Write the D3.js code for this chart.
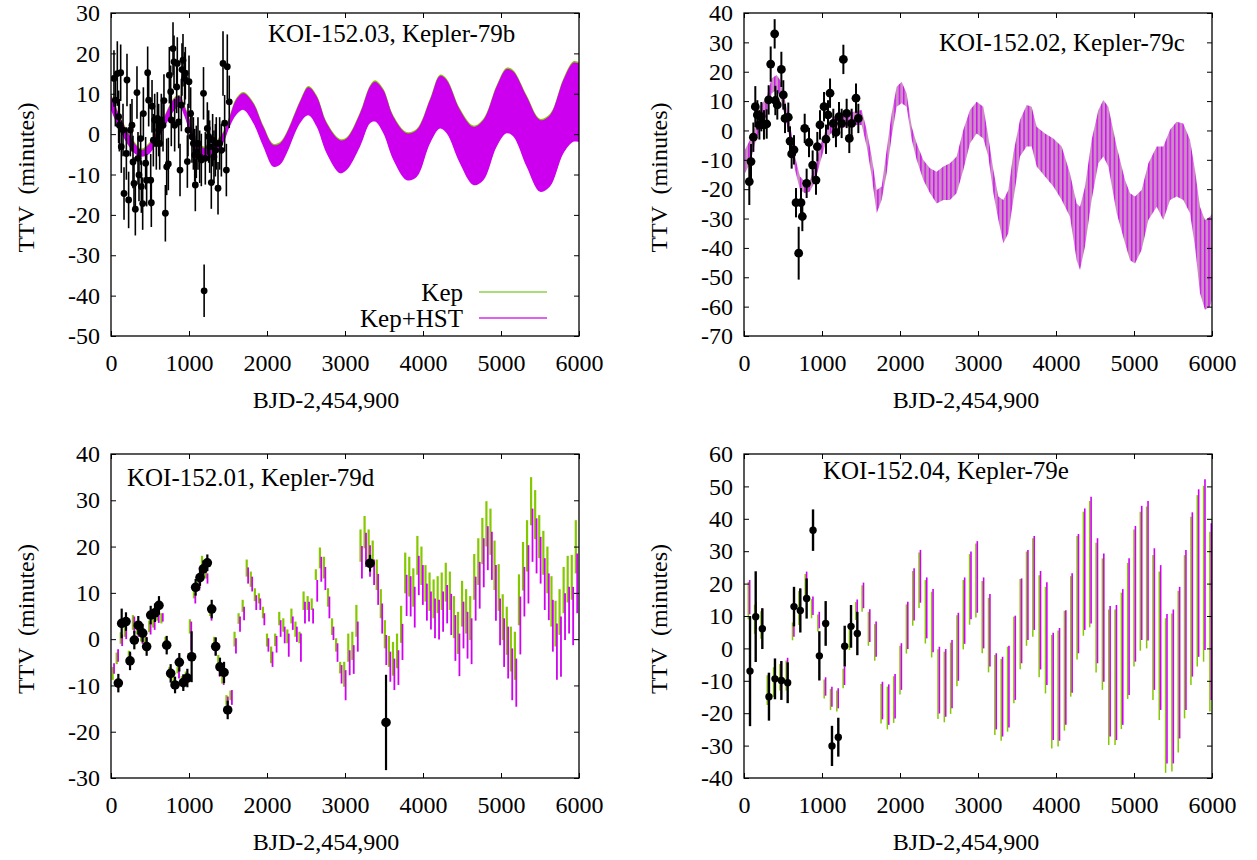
<!DOCTYPE html>
<html><head><meta charset="utf-8">
<script src="https://cdn.jsdelivr.net/npm/d3@7"></script>
<style>
html,body{margin:0;padding:0;background:#fff;}
svg{display:block;}
</style></head><body>
<svg id="chart" width="1257" height="860"></svg>
<script>
// ---------------- DATA ----------------
const xTicks = [0,1000,2000,3000,4000,5000,6000];
const yTicksB = [-50,-40,-30,-20,-10,0,10,20,30];
const yTicksC = [-70,-60,-50,-40,-30,-20,-10,0,10,20,30,40];
const yTicksD = [-30,-20,-10,0,10,20,30,40];
const yTicksE = [-40,-30,-20,-10,0,10,20,30,40,50,60];
const titles = ["KOI-152.03, Kepler-79b","KOI-152.02, Kepler-79c","KOI-152.01, Kepler-79d","KOI-152.04, Kepler-79e"];
const xLabel = "BJD-2,454,900";
const yLabel = "TTV  (minutes)";
const legendNames = ["Kep","Kep+HST"];

// Kepler-79b model band (upper / lower envelope)
const bModelT  = [0,132,303,389,496,645,816,880,944,1009,1073,1158,1244,1329,1436,1521,1607,1697,1825,1953,2081,2167,2252,2423,2530,2637,2765,2936,3021,3192,3321,3385,3491,3620,3791,3919,4090,4218,4303,4474,4645,4774,4944,5073,5158,5329,5500,5628,5799,5927,6000];
const bModelHi = [9.7,3.5,-2.3,-3.9,-2.3,2.7,8.9,9.3,6.8,3.5,-0.6,-3.1,-3.5,-2.3,0.2,4.3,8.6,10.1,7.6,1.8,-2.7,-2.3,0.2,8.0,11.6,9.3,2.7,-1.5,-1.1,5.1,11.8,13.0,10.9,4.3,0.2,1.0,8.5,14.4,13.4,6.0,1.8,3.5,11.8,16.1,15.5,9.3,3.5,4.7,13.4,17.7,17.5];
const bModelLo = [6.0,0.2,-4.8,-5.6,-4.8,0.2,6.0,6.8,4.3,0.2,-3.1,-5.6,-6.0,-4.8,-2.3,1.8,4.8,6.0,2.7,-3.1,-8.1,-7.6,-4.8,2.7,4.7,1.8,-4.8,-9.7,-8.9,-3.1,2.7,3.1,0.2,-6.4,-11.4,-10.6,-2.3,1.4,0.2,-7.3,-12.6,-11.4,-3.1,0.2,-0.6,-8.1,-14.3,-13.0,-4.8,-1.9,-1.9];
// Kepler-79b observations [t, ttv, err]
const bObs = [[38,13.8,7],[56,8.4,6.5],[81,15.0,8],[98,4.3,6.5],[107,2.2,6.5],[124,15.2,7],[132,-3.1,6.5],[154,1.0,6.5],[167,-14.7,6.5],[197,-4.8,6.5],[205,13.4,6.5],[226,-16.3,7],[248,1.0,6.5],[269,2.2,6.5],[282,-6.9,6.5],[295,-12.2,6.5],[312,-18.6,6.5],[333,10.3,6.5],[346,-6.0,6.5],[359,-10.1,6.5],[380,-1.1,6.5],[389,-13.0,6.5],[406,-17.2,6.5],[415,5.1,6.5],[444,-7.2,6.5],[457,-11.4,6.5],[470,15.2,6.5],[483,8.4,6.5],[509,-11.4,6.5],[517,-17.0,6],[526,6.9,6.5],[543,-1.5,6.5],[560,3.5,6.5],[581,-2.3,6.5],[594,3.9,6.5],[611,1.0,6.5],[624,-2.3,6.5],[645,3.5,6.5],[667,2.2,6.5],[679,8.3,6.5],[697,-19.6,7],[714,-8.1,7],[735,-7.4,6.5],[748,14.6,7],[765,10.5,6.5],[773,3.5,6.5],[795,21.2,6.5],[808,17.9,6.5],[816,2.2,6.5],[842,11.7,6.5],[850,17.5,6.5],[868,3.0,6.5],[885,-8.9,6.5],[902,7.2,6.5],[910,16.0,6.5],[923,18.3,6.5],[944,13.8,6.5],[953,15.1,6.5],[979,-6.8,6.5],[987,1.0,6.5],[1000,13.0,6.5],[1021,5.1,6.5],[1038,-0.6,6.5],[1056,-2.3,6.5],[1073,-5.2,6.5],[1081,-12.6,6.5],[1094,-4.4,6.5],[1115,-2.3,6.5],[1137,-5.6,6.5],[1158,-6.4,6.5],[1186,10.1,6.5],[1194,-38.8,6.5],[1209,-6.0,6.5],[1235,1.4,6.5],[1252,-0.6,6.5],[1265,-3.1,6.5],[1286,-12.0,6.5],[1303,-1.5,6.5],[1320,-5.6,6.5],[1338,-4.0,6.5],[1350,-2.3,6.5],[1372,-13.4,6.5],[1393,-2.3,6.5],[1415,-4.0,6.5],[1436,17.5,8],[1457,2.7,7],[1479,-8.9,6.5],[1491,16.7,8],[1516,8.0,6.5]];

// Kepler-79c model band
const cModelT  = [13,77,141,205,291,355,419,462,526,590,654,718,782,846,910,974,1060,1145,1231,1316,1402,1509,1573,1637,1701,1765,1829,1893,1957,2021,2085,2150,2214,2299,2385,2470,2556,2641,2726,2812,2897,2983,3068,3132,3197,3261,3325,3389,3453,3538,3624,3688,3752,3859,3966,4073,4179,4265,4308,4372,4457,4543,4607,4671,4778,4885,4949,5013,5098,5184,5291,5376,5462,5547,5632,5718,5782,5846,5910,5974,6000];
const cModelHi = [-6.6,-3.2,1.3,8.1,11.5,17.8,18.9,17.2,10.4,2.4,-8.9,-15.7,-17.4,-16.9,-12.3,-5.5,1.3,4.7,5.3,5.8,6.4,7.0,0.2,-8.9,-20.3,-19.1,-6.6,5.8,14.9,16.6,12.7,1.3,-4.4,-10.1,-12.9,-14.1,-12.3,-11.2,-8.9,0.2,7.0,9.8,8.1,-2.1,-13.5,-22.5,-23.7,-20.3,-7.8,3.6,8.7,8.1,1.3,-1.0,-2.7,-5.5,-14.6,-24.9,-26.0,-19.1,-3.2,7.0,10.4,8.1,-5.5,-16.9,-21.4,-22.5,-20.3,-11.2,-5.5,-5.5,0.2,3.0,2.4,-3.2,-13.5,-26.0,-30.5,-29.4,-28.2];
const cModelLo = [-14.6,-11.2,-4.4,0.2,5.8,12.7,13.8,11.5,4.7,-3.2,-13.5,-20.3,-21.4,-20.8,-17.4,-11.2,-3.2,0.2,0.7,1.3,1.9,1.9,-5.5,-15.7,-28.2,-23.7,-14.6,-2.1,8.1,9.3,8.1,-3.2,-10.1,-16.9,-21.4,-24.9,-23.7,-23.7,-21.4,-13.5,-4.4,-1.0,-2.7,-8.9,-21.4,-30.5,-38.4,-35.0,-23.7,-8.9,-5.5,-5.5,-12.3,-15.7,-19.1,-23.7,-29.4,-44.2,-47.5,-39.5,-23.7,-11.2,-8.9,-12.3,-28.2,-38.4,-44.2,-45.3,-40.7,-30.5,-26.0,-30.5,-23.7,-22.5,-23.7,-28.2,-39.5,-55.4,-61.1,-60.0,-57.7];
const cObs = [[68,-17.4,8],[90,-10.6,6],[120,-2.3,5],[145,8.1,7],[171,5.3,5],[197,1.9,5],[222,4.7,5],[256,1.9,5],[291,2.2,5],[316,10.4,5],[342,22.6,6],[393,32.9,5],[402,10.2,5],[427,8.7,5],[479,20.8,6],[504,12.1,5],[526,4.1,5],[568,4.5,5],[590,-3.6,5],[611,-8.0,5],[641,-6.6,5],[667,-24.6,5],[701,-41.8,9],[731,-24.6,5],[748,-29.3,5],[778,0.7,5],[803,-18.0,5],[833,-4.1,5],[880,-11.8,5],[923,-16.9,5],[940,-5.5,5],[974,1.9,5],[1026,8.1,5],[1051,-3.0,5],[1077,5.3,5],[1103,12.7,5],[1145,2.4,5],[1179,-0.7,5],[1218,4.7,5],[1252,2.4,5],[1274,24.2,5],[1316,5.8,5],[1350,-2.7,5],[1380,2.4,5],[1436,11.0,5],[1466,4.1,5]];

// Kepler-79d model bars [t, kepHi, kepLo, hstHi, hstLo]
const dBars = [[30,-6.0,-8.8,-5.2,-7.5],[82,-2.9,-5.4,-2.2,-4.9],[134,1.5,-1.0,1.0,-1.5],[186,3.5,0.5,3.0,0.0],[238,-2.5,-5.0,-3.0,-5.5],[290,5.2,2.0,4.9,1.2],[343,3.5,1.0,3.0,0.5],[395,2.0,-0.5,1.5,-1.0],[447,1.0,-1.5,0.5,-2.0],[499,4.0,1.5,3.5,1.0],[551,5.0,2.5,4.5,2.0],[603,6.5,4.0,6.0,3.5],[655,5.6,3.4,5.6,3.8],[707,0.5,-2.0,0.0,-2.5],[759,-6.0,-8.5,-6.5,-9.0],[811,-8.0,-10.0,-8.5,-10.5],[863,-6.0,-7.4,-6.3,-8.5],[916,-8.0,-10.0,-8.5,-10.5],[968,-7.0,-9.0,-7.5,-9.5],[1020,4.3,1.2,3.8,-2.4],[1072,11.0,8.8,9.9,7.7],[1124,14.0,11.5,13.0,10.5],[1176,18.0,15.6,16.7,14.2],[1228,15.6,13.1,14.2,12.0],[1280,7.5,5.0,6.5,4.0],[1332,0.5,-2.4,0.2,-3.4],[1384,-3.4,-6.7,-4.9,-8.1],[1436,-6.7,-9.6,-7.0,-9.9],[1489,-12.1,-14.2,-12.4,-14.6],[1541,-11.1,-13.2,-11.0,-14.2],[1593,1.6,-1.6,0.2,-3.1],[1645,5.6,3.3,4.9,1.6],[1697,8.5,5.9,7.0,4.1],[1749,17.2,13.5,15.5,12.0],[1801,14.6,11.3,13.5,10.3],[1853,11.0,8.2,9.5,6.3],[1905,9.9,7.7,8.8,6.3],[1957,7.0,4.5,5.6,3.0],[2009,1.2,-1.6,0.2,-2.7],[2062,-1.6,-5.2,-2.7,-6.0],[2114,1.2,-1.5,0.7,-2.9],[2166,5.9,3.0,4.1,0.5],[2218,4.5,1.6,2.7,-0.9],[2270,2.1,-0.9,1.2,-3.8],[2322,6.6,3.4,4.9,2.0],[2374,3.8,0.5,2.7,-0.6],[2426,1.6,-0.9,1.2,-4.9],[2478,10.3,6.3,8.1,3.4],[2530,9.3,6.3,8.1,3.8],[2582,8.8,6.3,6.6,3.4],[2635,15.1,12.8,12.8,8.1],[2687,19.8,15.3,17.8,12.4],[2739,17.8,13.1,15.6,10.6],[2791,11.0,7.0,9.2,4.5],[2843,4.5,0.9,2.7,-0.2],[2895,0.2,-2.7,-0.9,-4.9],[2947,-4.9,-7.4,-5.6,-9.6],[2999,-4.9,-10.3,-6.7,-13.2],[3051,1.2,-4.9,-2.4,-7.8],[3103,1.6,-4.5,-1.3,-7.5],[3155,7.4,0.5,3.8,-2.7],[3208,23.7,16.7,20.1,13.1],[3260,26.6,19.6,23.0,15.6],[3312,23.7,17.1,20.3,13.5],[3364,21.3,15.6,17.2,11.7],[3416,17.2,10.6,14.1,7.4],[3468,10.8,4.5,7.7,1.2],[3520,4.1,-2.0,0.9,-5.6],[3572,0.7,-6.0,-2.7,-9.2],[3624,-0.6,-7.9,-4.2,-11.0],[3676,1.2,-6.3,-2.4,-9.9],[3728,7.2,-0.8,3.3,-4.5],[3781,18.7,9.9,13.9,5.0],[3833,17.8,9.2,13.6,4.9],[3885,15.3,7.0,11.3,2.5],[3937,22.3,13.9,18.0,9.5],[3989,20.0,11.7,16.0,7.4],[4041,16.0,8.1,12.0,4.0],[4093,14.4,6.1,10.3,2.1],[4145,12.9,4.5,8.8,0.2],[4197,13.6,5.6,8.5,-0.1],[4249,14.4,6.3,10.3,1.6],[4301,16.5,8.1,11.7,3.4],[4353,14.6,6.3,9.8,0.9],[4406,9.3,0.2,5.2,-4.7],[4458,5.9,-3.2,1.2,-8.0],[4510,12.6,2.7,8.1,-2.0],[4562,10.8,1.2,5.9,-4.2],[4614,9.3,-0.2,4.5,-5.4],[4666,18.4,8.5,13.5,4.0],[4718,21.8,11.7,16.7,6.6],[4770,26.2,16.2,21.8,11.2],[4822,29.8,20.0,24.4,14.9],[4874,28.2,18.2,23.2,12.8],[4926,21.3,10.6,16.0,4.0],[4979,16.2,6.1,8.8,-1.3],[5031,9.7,-0.2,4.5,-6.0],[5083,7.0,-3.4,2.7,-8.5],[5135,2.7,-7.0,-2.0,-13.2],[5187,1.6,-8.8,-4.2,-14.6],[5239,14.0,3.0,9.2,-3.3],[5291,21.0,10.5,15.6,4.9],[5343,25.7,14.6,20.3,7.7],[5395,35.0,24.6,28.2,16.7],[5447,32.2,21.6,26.1,14.2],[5499,26.8,17.5,22.1,12.0],[5552,23.4,13.9,17.5,6.3],[5604,20.0,9.9,14.2,4.1],[5656,13.6,2.7,8.5,-2.7],[5708,8.3,-1.6,3.4,-8.8],[5760,10.8,0.9,4.9,-8.1],[5812,15.6,5.6,9.9,-0.2],[5864,18.0,7.9,11.3,1.2],[5916,18.2,8.5,11.3,-1.3],[5968,25.7,14.2,18.5,5.6]];
const dObs = [[94,-9.5,2],[137,3.4,3.2],[192,3.8,2],[244,-4.7,2],[299,-0.2,2],[350,3.0,2],[406,1.3,2],[457,-1.6,2],[509,5.2,2],[564,5.7,2],[615,7.3,2],[714,-1.3,2],[765,-7.4,2],[821,-9.9,1.8],[876,-5.0,2],[927,-9.4,1.8],[979,-8.4,2],[1034,-3.8,5.5],[1085,11.2,1.8],[1141,13.3,1.8],[1184,15.2,1.8],[1235,16.5,1.8],[1291,6.5,2],[1342,-1.6,2],[1397,-6.0,2],[1449,-7.2,2.3],[1496,-15.3,2],[3321,16.4,1.8],[3526,-18.0,10.3]];

// Kepler-79e model bars [t, kepHi, kepLo, hstHi, hstLo]
const eBars = [[64,20.5,9.0,21.1,10.5],[145,13.5,4.5,14.4,6.0],[226,11.5,3.0,12.3,4.1],[307,-8.3,-17.5,-7.7,-16.5],[388,-5.8,-15.0,-5.0,-14.0],[469,-4.8,-13.0,-4.0,-12.0],[550,-3.7,-13.0,-2.9,-12.0],[631,8.0,2.5,8.8,3.6],[712,17.7,7.2,18.5,8.3],[794,23.0,15.0,23.7,16.0],[875,15.2,9.3,16.0,10.3],[956,10.5,5.2,11.3,6.2],[1037,-9.6,-15.5,-8.9,-14.6],[1118,-12.5,-19.0,-11.8,-18.0],[1199,-13.0,-19.5,-12.3,-18.5],[1280,-6.3,-12.3,-5.6,-11.3],[1361,5.9,-0.5,6.7,0.5],[1442,14.3,8.8,15.1,9.8],[1523,19.5,11.3,20.3,12.4],[1604,11.3,0.8,12.1,2.0],[1685,7.5,-3.8,8.3,-2.6],[1766,-11.0,-23.2,-10.3,-21.9],[1847,-11.8,-25.0,-11.1,-23.6],[1928,-8.6,-23.0,-7.9,-21.6],[2009,0.8,-14.2,1.6,-12.8],[2091,13.6,-1.6,14.4,-0.2],[2172,23.9,7.0,24.7,8.6],[2253,29.6,12.5,30.4,14.1],[2334,21.1,1.5,21.9,3.1],[2415,17.5,-2.8,18.3,-1.2],[2496,-0.3,-21.8,0.5,-20.1],[2577,-1.0,-22.8,-0.2,-21.1],[2658,1.8,-20.2,2.6,-18.5],[2739,10.2,-11.7,11.0,-10.0],[2820,21.1,-0.3,21.9,1.4],[2901,29.1,7.3,29.9,9.0],[2982,32.4,9.5,33.1,11.0],[3063,20.8,-1.5,21.9,0.0],[3144,15.6,-7.4,16.8,-5.6],[3225,-2.0,-26.7,-1.5,-25.0],[3306,-3.3,-28.5,-2.6,-27.2],[3388,0.5,-25.7,0.8,-24.4],[3469,9.8,-16.9,10.1,-15.9],[3550,21.4,-6.4,21.6,-4.6],[3631,29.9,0.8,30.4,2.6],[3712,34.0,3.6,34.7,5.7],[3793,22.6,-8.9,23.9,-6.5],[3874,19.0,-13.9,20.4,-11.3],[3955,4.1,-30.9,4.8,-28.3],[4036,5.5,-30.3,6.3,-28.5],[4117,11.6,-25.4,11.8,-23.6],[4198,22.3,-14.9,23.2,-13.7],[4279,34.7,-3.4,35.3,-1.5],[4360,42.2,3.9,43.2,5.7],[4441,45.5,6.5,46.8,7.7],[4523,32.6,-7.4,34.0,-4.6],[4604,27.8,-12.8,29.3,-10.3],[4685,12.0,-29.8,13.1,-27.2],[4766,12.0,-29.8,13.4,-28.3],[4847,17.2,-24.9,18.3,-23.6],[4928,26.4,-15.6,27.8,-14.4],[5009,36.7,-5.6,37.8,-4.1],[5090,42.2,-0.7,44.0,2.6],[5171,43.8,0.0,45.5,2.4],[5252,28.8,-15.9,30.9,-12.8],[5333,23.7,-22.1,25.7,-19.0],[5414,9.3,-38.4,10.6,-35.5],[5495,10.8,-38.0,12.0,-35.5],[5576,17.8,-32.1,19.0,-27.8],[5657,28.8,-21.6,30.4,-19.0],[5739,40.6,-11.3,42.0,-8.7],[5820,47.3,-5.6,49.1,-2.6],[5901,50.2,-4.1,52.2,-0.5],[5982,36.0,-19.5,38.6,-15.9]];
const eObs = [[77,-7.0,17],[150,9.8,14],[235,6.1,6.3],[320,-14.9,7.4],[397,-9.4,6.3],[479,-9.9,6],[560,-10.6,6.3],[641,12.9,6.1],[722,11.7,6.8],[803,15.4,6.2],[885,36.5,6.4],[966,-2.3,7.6],[1047,7.7,6.9],[1128,-30.1,6.2],[1209,-27.4,6],[1291,0.7,6.3],[1372,6.8,6.6],[1453,4.6,6.7]];

// ---------------- DRAWING ----------------
const FONT = '"Liberation Serif","Times New Roman",Times,serif';
const GREEN = "#84c800", MAG = "#d000f0";
const svg = d3.select("#chart");
const defs = svg.append("defs");

// stripe pattern for the dense Kepler-79c band
const pat = defs.append("pattern").attr("id","cstripe").attr("patternUnits","userSpaceOnUse")
  .attr("width",4.3).attr("height",8);
pat.append("rect").attr("width",4.3).attr("height",8).attr("fill","#dc7ee6");
pat.append("rect").attr("x",0).attr("width",1.4).attr("height",8).attr("fill","#c818e2");
pat.append("rect").attr("x",2.7).attr("width",0.8).attr("height",8).attr("fill","#8cc63a").attr("opacity",0.55);

function panel(id, x0, x1, y0, y1, ydom){
  const x = d3.scaleLinear().domain([0,6000]).range([x0,x1]);
  const y = d3.scaleLinear().domain(ydom).range([y1,y0]);
  defs.append("clipPath").attr("id","clip"+id).append("rect")
    .attr("x",x0).attr("y",y0).attr("width",x1-x0).attr("height",y1-y0);
  const g = svg.append("g");
  const plot = g.append("g").attr("clip-path",`url(#clip${id})`);
  return {x,y,g,plot,x0,x1,y0,y1};
}

function axes(p, yTicks, labelX, xLabelCx){
  const {x,y,g,x0,x1,y0,y1} = p;
  const fmt = d => String(d);
  const none = () => "";
  g.append("g").attr("transform",`translate(0,${y1})`)
    .call(d3.axisBottom(x).tickValues(xTicks).tickFormat(fmt).tickSizeInner(-5).tickSizeOuter(0).tickPadding(18));
  g.append("g").attr("transform",`translate(0,${y0})`)
    .call(d3.axisTop(x).tickValues(xTicks).tickFormat(none).tickSizeInner(-5).tickSizeOuter(0));
  g.append("g").attr("transform",`translate(${x0},0)`)
    .call(d3.axisLeft(y).tickValues(yTicks).tickFormat(fmt).tickSizeInner(-5).tickSizeOuter(0).tickPadding(11));
  g.append("g").attr("transform",`translate(${x1},0)`)
    .call(d3.axisRight(y).tickValues(yTicks).tickFormat(none).tickSizeInner(-5).tickSizeOuter(0));
  g.selectAll(".domain").remove();
  g.selectAll(".tick text").attr("font-family",FONT).attr("font-size",24).attr("fill","#000");
  g.append("rect").attr("x",x0).attr("y",y0).attr("width",x1-x0).attr("height",y1-y0)
    .attr("fill","none").attr("stroke","#000").attr("stroke-width",1.3);
  g.append("text").attr("x",xLabelCx).attr("y",y1+72).attr("text-anchor","middle")
    .attr("font-family",FONT).attr("font-size",24).text(xLabel);
  g.append("text").attr("transform",`translate(${labelX},${(y0+y1)/2+3}) rotate(-90)`)
    .attr("text-anchor","middle").attr("font-family",FONT).attr("font-size",24)
    .style("white-space","pre").text(yLabel);
}

function points(p, obs, r, w){
  const {x,y,plot} = p;
  const gp = plot.append("g");
  gp.selectAll("line").data(obs).join("line")
    .attr("x1",d=>x(d[0])).attr("x2",d=>x(d[0]))
    .attr("y1",d=>y(d[1]+d[2])).attr("y2",d=>y(d[1]-d[2]))
    .attr("stroke","#000").attr("stroke-width",w);
  gp.selectAll("circle").data(obs).join("circle")
    .attr("cx",d=>x(d[0])).attr("cy",d=>y(d[1])).attr("r",r).attr("fill","#000");
}

function bars(p, rows, dx, wk, wh){
  const {x,y,plot} = p;
  const gb = plot.append("g");
  gb.selectAll("line.k").data(rows).join("line").attr("class","k")
    .attr("x1",d=>x(d[0])-dx).attr("x2",d=>x(d[0])-dx)
    .attr("y1",d=>y(d[1])).attr("y2",d=>y(d[2]))
    .attr("stroke",GREEN).attr("stroke-width",wk);
  gb.selectAll("line.h").data(rows).join("line").attr("class","h")
    .attr("x1",d=>x(d[0])+dx).attr("x2",d=>x(d[0])+dx)
    .attr("y1",d=>y(d[3])).attr("y2",d=>y(d[4]))
    .attr("stroke",MAG).attr("stroke-width",wh);
}

function title(p, text, tx, ty){
  p.g.append("text").attr("x",tx).attr("y",ty).attr("font-family",FONT)
    .attr("font-size",25).text(text);
}

// ---- Panel 1: Kepler-79b ----
const P1 = panel(1, 111, 579, 13, 336, [-50,30]);
{
  const rows = bModelT.map((t,i)=>({t, hi:bModelHi[i], lo:bModelLo[i]}));
  const area = d3.area().x(d=>P1.x(d.t)).y0(d=>P1.y(d.lo)).y1(d=>P1.y(d.hi)).curve(d3.curveCatmullRom);
  P1.plot.append("path").datum(rows).attr("d",area).attr("fill",GREEN).attr("transform","translate(0,-1.3)");
  P1.plot.append("path").datum(rows).attr("d",area).attr("fill","#cc00ee");
  points(P1, bObs, 3.4, 1.6);
}
axes(P1, yTicksB, 34, 326);
title(P1, titles[0], 268, 42);
// legend
{
  const lg = P1.g.append("g").attr("font-family",FONT).attr("font-size",25);
  lg.append("text").attr("x",463).attr("y",301).attr("text-anchor","end").text(legendNames[0]);
  lg.append("text").attr("x",463).attr("y",327).attr("text-anchor","end").text(legendNames[1]);
  lg.append("line").attr("x1",479).attr("x2",547).attr("y1",292).attr("y2",292).attr("stroke","#8fd14f").attr("stroke-width",1.5);
  lg.append("line").attr("x1",479).attr("x2",547).attr("y1",318).attr("y2",318).attr("stroke","#e060f0").attr("stroke-width",2);
}

// ---- Panel 2: Kepler-79c ----
const P2 = panel(2, 744, 1212, 13, 336, [-70,40]);
{
  const rows = cModelT.map((t,i)=>({t, hi:cModelHi[i], lo:cModelLo[i]}));
  const area = d3.area().x(d=>P2.x(d.t)).y0(d=>P2.y(d.lo)).y1(d=>P2.y(d.hi)).curve(d3.curveLinear);
  P2.plot.append("path").datum(rows).attr("d",area).attr("fill","url(#cstripe)");
  points(P2, cObs, 4.4, 2);
}
axes(P2, yTicksC, 667, 966);
title(P2, titles[1], 939, 51);

// ---- Panel 3: Kepler-79d ----
const P3 = panel(3, 111, 579, 454, 778, [-30,40]);
bars(P3, dBars, 0.7, 2.2, 1.8);
points(P3, dObs, 4.8, 2.2);
axes(P3, yTicksD, 34, 326);
title(P3, titles[2], 127, 486);

// ---- Panel 4: Kepler-79e ----
const P4 = panel(4, 744, 1212, 454, 778, [-40,60]);
bars(P4, eBars, 0.7, 1.5, 1.6);
points(P4, eObs, 3.7, 2.4);
axes(P4, yTicksE, 667, 966);
title(P4, titles[3], 823, 479);
</script>
</body></html>
